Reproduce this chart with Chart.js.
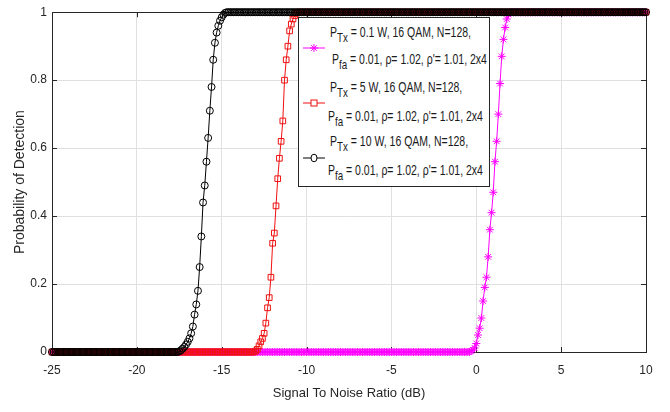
<!DOCTYPE html>
<html><head><meta charset="utf-8">
<script src="https://cdn.jsdelivr.net/npm/chart.js@4.4.1/dist/chart.umd.min.js"></script>
<style>
html,body{margin:0;padding:0;background:#fff;}
#wrap{position:relative;width:670px;height:412px;}
#legend{position:absolute;left:298px;top:17px;width:190px;height:168px;border:1px solid #262626;background:#fff;
  font-family:"Liberation Sans",Arial,sans-serif;font-size:14px;color:#1a1a1a;}
#legend .t{position:absolute;white-space:nowrap;line-height:15px;transform:scaleX(0.75);transform-origin:0 0;}
#legend sub{font-size:13px;vertical-align:baseline;position:relative;top:5px;}
#legend svg{position:absolute;left:4px;}
</style></head>
<body>
<div id="wrap">
<canvas id="c" width="670" height="412"></canvas>
<div id="legend">
  <svg style="top:22px" width="22" height="16"><line x1="0" y1="8" x2="22" y2="8" stroke="#ff00ff" stroke-width="1"/><g stroke="#ff00ff" stroke-width="1"><line x1="11" y1="4" x2="11" y2="12"/><line x1="7" y1="8" x2="15" y2="8"/><line x1="8.2" y1="5.2" x2="13.8" y2="10.8"/><line x1="13.8" y1="5.2" x2="8.2" y2="10.8"/></g></svg>
  <div class="t" style="left:31px;top:7px">P<sub>Tx</sub> = 0.1 W, 16 QAM, N=128,</div>
  <div class="t" style="left:33px;top:34px">P<sub>fa</sub> = 0.01, ρ= 1.02, ρ'= 1.01, 2x4</div>
  <svg style="top:77px" width="22" height="16"><line x1="0" y1="8" x2="22" y2="8" stroke="#f01010" stroke-width="1"/><rect x="8" y="5" width="6" height="6" fill="#fff" stroke="#f01010" stroke-width="1"/></svg>
  <div class="t" style="left:31px;top:62px">P<sub>Tx</sub> = 5 W, 16 QAM, N=128,</div>
  <div class="t" style="left:29px;top:91px">P<sub>fa</sub> = 0.01, ρ= 1.02, ρ'= 1.01, 2x4</div>
  <svg style="top:132px" width="22" height="16"><line x1="0" y1="8" x2="22" y2="8" stroke="#000" stroke-width="1"/><ellipse cx="11" cy="8" rx="3" ry="3.8" fill="#fff" stroke="#000" stroke-width="1"/></svg>
  <div class="t" style="left:31px;top:116px">P<sub>Tx</sub> = 10 W, 16 QAM, N=128,</div>
  <div class="t" style="left:29px;top:145px">P<sub>fa</sub> = 0.01, ρ= 1.02, ρ'= 1.01, 2x4</div>
</div>
</div>
<script>
// Signal to noise ratio (dB), x samples
const snr = [
-25,-24.9,-24.8,-24.7,-24.6,-24.5,-24.4,-24.3,-24.2,-24.1,
-24,-23.9,-23.8,-23.7,-23.6,-23.5,-23.4,-23.3,-23.2,-23.1,
-23,-22.9,-22.8,-22.7,-22.6,-22.5,-22.4,-22.3,-22.2,-22.1,
-22,-21.9,-21.8,-21.7,-21.6,-21.5,-21.4,-21.3,-21.2,-21.1,
-21,-20.9,-20.8,-20.7,-20.6,-20.5,-20.4,-20.3,-20.2,-20.1,
-20,-19.9,-19.8,-19.7,-19.6,-19.5,-19.4,-19.3,-19.2,-19.1,
-19,-18.9,-18.8,-18.7,-18.6,-18.5,-18.4,-18.3,-18.2,-18.1,
-18,-17.9,-17.8,-17.7,-17.6,-17.5,-17.4,-17.3,-17.2,-17.1,
-17,-16.9,-16.8,-16.7,-16.6,-16.5,-16.4,-16.3,-16.2,-16.1,
-16,-15.9,-15.8,-15.7,-15.6,-15.5,-15.4,-15.3,-15.2,-15.1,
-15,-14.9,-14.8,-14.7,-14.6,-14.5,-14.4,-14.3,-14.2,-14.1,
-14,-13.9,-13.8,-13.7,-13.6,-13.5,-13.4,-13.3,-13.2,-13.1,
-13,-12.9,-12.8,-12.7,-12.6,-12.5,-12.4,-12.3,-12.2,-12.1,
-12,-11.9,-11.8,-11.7,-11.6,-11.5,-11.4,-11.3,-11.2,-11.1,
-11,-10.9,-10.8,-10.7,-10.6,-10.5,-10.4,-10.3,-10.2,-10.1,
-10,-9.9,-9.8,-9.7,-9.6,-9.5,-9.4,-9.3,-9.2,-9.1,
-9,-8.9,-8.8,-8.7,-8.6,-8.5,-8.4,-8.3,-8.2,-8.1,
-8,-7.9,-7.8,-7.7,-7.6,-7.5,-7.4,-7.3,-7.2,-7.1,
-7,-6.9,-6.8,-6.7,-6.6,-6.5,-6.4,-6.3,-6.2,-6.1,
-6,-5.9,-5.8,-5.7,-5.6,-5.5,-5.4,-5.3,-5.2,-5.1,
-5,-4.9,-4.8,-4.7,-4.6,-4.5,-4.4,-4.3,-4.2,-4.1,
-4,-3.9,-3.8,-3.7,-3.6,-3.5,-3.4,-3.3,-3.2,-3.1,
-3,-2.9,-2.8,-2.7,-2.6,-2.5,-2.4,-2.3,-2.2,-2.1,
-2,-1.9,-1.8,-1.7,-1.6,-1.5,-1.4,-1.3,-1.2,-1.1,
-1,-0.9,-0.8,-0.7,-0.6,-0.5,-0.4,-0.3,-0.2,-0.1,
0,0.1,0.2,0.3,0.4,0.5,0.6,0.7,0.8,0.9,
1,1.1,1.2,1.3,1.4,1.5,1.6,1.7,1.8,1.9,
2,2.1,2.2,2.3,2.4,2.5,2.6,2.7,2.8,2.9,
3,3.1,3.2,3.3,3.4,3.5,3.6,3.7,3.8,3.9,
4,4.1,4.2,4.3,4.4,4.5,4.6,4.7,4.8,4.9,
5,5.1,5.2,5.3,5.4,5.5,5.6,5.7,5.8,5.9,
6,6.1,6.2,6.3,6.4,6.5,6.6,6.7,6.8,6.9,
7,7.1,7.2,7.3,7.4,7.5,7.6,7.7,7.8,7.9,
8,8.1,8.2,8.3,8.4,8.5,8.6,8.7,8.8,8.9,
9,9.1,9.2,9.3,9.4,9.5,9.6,9.7,9.8,9.9,
10];

// P_Tx = 0.1 W (magenta, *)
const pdMagenta = [
0,0,0,0,0,0,0,0,0,0, // -25
0,0,0,0,0,0,0,0,0,0, // -24
0,0,0,0,0,0,0,0,0,0, // -23
0,0,0,0,0,0,0,0,0,0, // -22
0,0,0,0,0,0,0,0,0,0, // -21
0,0,0,0,0,0,0,0,0,0, // -20
0,0,0,0,0,0,0,0,0,0, // -19
0,0,0,0,0,0,0,0,0,0, // -18
0,0,0,0,0,0,0,0,0,0, // -17
0,0,0,0,0,0,0,0,0,0, // -16
0,0,0,0,0,0,0,0,0,0, // -15
0,0,0,0,0,0,0,0,0,0, // -14
0,0,0,0,0,0,0,0,0,0, // -13
0,0,0,0,0,0,0,0,0,0, // -12
0,0,0,0,0,0,0,0,0,0, // -11
0,0,0,0,0,0,0,0,0,0, // -10
0,0,0,0,0,0,0,0,0,0, // -9
0,0,0,0,0,0,0,0,0,0, // -8
0,0,0,0,0,0,0,0,0,0, // -7
0,0,0,0,0,0,0,0,0,0, // -6
0,0,0,0,0,0,0,0,0,0, // -5
0,0,0,0,0,0,0,0,0,0, // -4
0,0,0,0,0,0,0,0,0,0, // -3
0,0,0,0,0,0,0,0,0,0, // -2
0,0,0,0,0,0,0,0.003,0.006,0.012, // -1
0.025,0.05,0.07,0.1,0.15,0.19,0.22,0.28,0.36,0.41, // 0
0.47,0.56,0.62,0.7,0.79,0.87,0.92,0.955,0.98,0.993, // 1
1,1,1,1,1,1,1,1,1,1, // 2
1,1,1,1,1,1,1,1,1,1, // 3
1,1,1,1,1,1,1,1,1,1, // 4
1,1,1,1,1,1,1,1,1,1, // 5
1,1,1,1,1,1,1,1,1,1, // 6
1,1,1,1,1,1,1,1,1,1, // 7
1,1,1,1,1,1,1,1,1,1, // 8
1,1,1,1,1,1,1,1,1,1, // 9
1];

// P_Tx = 5 W (red, squares)
const pdRed = [
0,0,0,0,0,0,0,0,0,0, // -25
0,0,0,0,0,0,0,0,0,0, // -24
0,0,0,0,0,0,0,0,0,0, // -23
0,0,0,0,0,0,0,0,0,0, // -22
0,0,0,0,0,0,0,0,0,0, // -21
0,0,0,0,0,0,0,0,0,0, // -20
0,0,0,0,0,0,0,0,0,0, // -19
0,0,0,0,0,0,0,0,0,0, // -18
0,0,0,0,0,0,0,0,0,0, // -17
0,0,0,0,0,0,0,0,0,0, // -16
0,0,0,0,0,0,0,0,0,0, // -15
0,0,0,0,0,0,0,0,0,0, // -14
0.003,0.008,0.018,0.03,0.04,0.055,0.085,0.13,0.16,0.22, // -13
0.32,0.35,0.43,0.51,0.57,0.62,0.68,0.8,0.86,0.9, // -12
0.945,0.965,0.98,0.99,0.997,1,1,1,1,1, // -11
1,1,1,1,1,1,1,1,1,1, // -10
1,1,1,1,1,1,1,1,1,1, // -9
1,1,1,1,1,1,1,1,1,1, // -8
1,1,1,1,1,1,1,1,1,1, // -7
1,1,1,1,1,1,1,1,1,1, // -6
1,1,1,1,1,1,1,1,1,1, // -5
1,1,1,1,1,1,1,1,1,1, // -4
1,1,1,1,1,1,1,1,1,1, // -3
1,1,1,1,1,1,1,1,1,1, // -2
1,1,1,1,1,1,1,1,1,1, // -1
1,1,1,1,1,1,1,1,1,1, // 0
1,1,1,1,1,1,1,1,1,1, // 1
1,1,1,1,1,1,1,1,1,1, // 2
1,1,1,1,1,1,1,1,1,1, // 3
1,1,1,1,1,1,1,1,1,1, // 4
1,1,1,1,1,1,1,1,1,1, // 5
1,1,1,1,1,1,1,1,1,1, // 6
1,1,1,1,1,1,1,1,1,1, // 7
1,1,1,1,1,1,1,1,1,1, // 8
1,1,1,1,1,1,1,1,1,1, // 9
1];

// P_Tx = 10 W (black, circles)
const pdBlack = [
0,0,0,0,0,0,0,0,0,0, // -25
0,0,0,0,0,0,0,0,0,0, // -24
0,0,0,0,0,0,0,0,0,0, // -23
0,0,0,0,0,0,0,0,0,0, // -22
0,0,0,0,0,0,0,0,0,0, // -21
0,0,0,0,0,0,0,0,0,0, // -20
0,0,0,0,0,0,0,0,0,0, // -19
0,0,0,0,0,0.002,0.005,0.01,0.015,0.022, // -18
0.03,0.04,0.055,0.075,0.11,0.14,0.18,0.25,0.34,0.44, // -17
0.49,0.56,0.63,0.71,0.78,0.86,0.91,0.94,0.96,0.975, // -16
0.985,0.993,0.998,1,1,1,1,1,1,1, // -15
1,1,1,1,1,1,1,1,1,1, // -14
1,1,1,1,1,1,1,1,1,1, // -13
1,1,1,1,1,1,1,1,1,1, // -12
1,1,1,1,1,1,1,1,1,1, // -11
1,1,1,1,1,1,1,1,1,1, // -10
1,1,1,1,1,1,1,1,1,1, // -9
1,1,1,1,1,1,1,1,1,1, // -8
1,1,1,1,1,1,1,1,1,1, // -7
1,1,1,1,1,1,1,1,1,1, // -6
1,1,1,1,1,1,1,1,1,1, // -5
1,1,1,1,1,1,1,1,1,1, // -4
1,1,1,1,1,1,1,1,1,1, // -3
1,1,1,1,1,1,1,1,1,1, // -2
1,1,1,1,1,1,1,1,1,1, // -1
1,1,1,1,1,1,1,1,1,1, // 0
1,1,1,1,1,1,1,1,1,1, // 1
1,1,1,1,1,1,1,1,1,1, // 2
1,1,1,1,1,1,1,1,1,1, // 3
1,1,1,1,1,1,1,1,1,1, // 4
1,1,1,1,1,1,1,1,1,1, // 5
1,1,1,1,1,1,1,1,1,1, // 6
1,1,1,1,1,1,1,1,1,1, // 7
1,1,1,1,1,1,1,1,1,1, // 8
1,1,1,1,1,1,1,1,1,1, // 9
1];

const xTickValues = [-25,-20,-15,-10,-5,0,5,10];
const yTickLabels = ['0','0.2','0.4','0.6','0.8','1'];

const pts = ys => snr.map((x,i) => ({x:x, y:ys[i]}));
const tickFont = {family:'"Liberation Sans",Arial,sans-serif', size:12};
const axisColor = '#262626';

const boxPlugin = {
  id:'box',
  beforeDatasetsDraw(chart){
    const {ctx, chartArea:a, scales:{x, y}} = chart;
    ctx.save();
    ctx.strokeStyle = axisColor; ctx.lineWidth = 1;
    ctx.strokeRect(Math.round(a.left)+0.5, Math.round(a.top)+0.5, Math.round(a.right-a.left), Math.round(a.bottom-a.top));
    ctx.beginPath();
    x.ticks.forEach(t => {
      const px = Math.round(x.getPixelForValue(t.value))+0.5;
      ctx.moveTo(px, a.bottom); ctx.lineTo(px, a.bottom-5);
      ctx.moveTo(px, a.top); ctx.lineTo(px, a.top+5);
    });
    y.ticks.forEach(t => {
      const py = Math.round(y.getPixelForValue(t.value))+0.5;
      ctx.moveTo(a.left, py); ctx.lineTo(a.left+5, py);
      ctx.moveTo(a.right, py); ctx.lineTo(a.right-5, py);
    });
    ctx.stroke();
    ctx.restore();
  }
};

new Chart(document.getElementById('c'), {
  type:'line',
  data:{datasets:[
    {label:'P_Tx = 0.1 W', data:pts(pdMagenta), borderColor:'#ff00ff', backgroundColor:'#ff00ff',
     pointStyle:'star', pointRadius:4, pointBorderColor:'#ff00ff', pointBorderWidth:1, borderWidth:1, order:3, clip:false},
    {label:'P_Tx = 5 W', data:pts(pdRed), borderColor:'#f01010', backgroundColor:'rgba(0,0,0,0)',
     pointStyle:'rect', pointRadius:4, pointBorderColor:'#f01010', pointBorderWidth:1, borderWidth:1, order:2, clip:false},
    {label:'P_Tx = 10 W', data:pts(pdBlack), borderColor:'#000', backgroundColor:'rgba(0,0,0,0)',
     pointStyle:'circle', pointRadius:3.5, pointBorderColor:'#000', pointBorderWidth:1, borderWidth:1, order:1, clip:false}
  ]},
  options:{
    responsive:false, animation:false, devicePixelRatio:1,
    layout:{padding:{top:10, right:24, left:0, bottom:0}},
    plugins:{legend:{display:false}, tooltip:{enabled:false}},
    elements:{line:{tension:0}},
    scales:{
      x:{type:'linear', min:-25, max:10,
        afterBuildTicks(s){ s.ticks = xTickValues.map(v => ({value:v})); },
        ticks:{font:tickFont, color:axisColor, padding:11, maxRotation:0, callback:v => String(v)},
        grid:{color:'#e0e0e0', drawTicks:false},
        border:{color:axisColor},
        title:{display:true, text:'Signal To Noise Ratio (dB)', font:{family:'"Liberation Sans",Arial,sans-serif', size:13}, color:axisColor, padding:{top:0,bottom:11}},
        afterFit(s){ s.height = 60; }
      },
      y:{type:'linear', min:0, max:1,
        ticks:{stepSize:0.2, font:tickFont, color:axisColor, padding:5, callback:(v,i) => yTickLabels[i]},
        grid:{color:'#e0e0e0', drawTicks:false},
        border:{color:axisColor},
        title:{display:true, text:'Probability of Detection', font:{family:'"Liberation Sans",Arial,sans-serif', size:14}, color:axisColor, padding:{top:12,bottom:0}},
        afterFit(s){ s.width = 52; }
      }
    }
  },
  plugins:[boxPlugin]
});
</script>
</body></html>
